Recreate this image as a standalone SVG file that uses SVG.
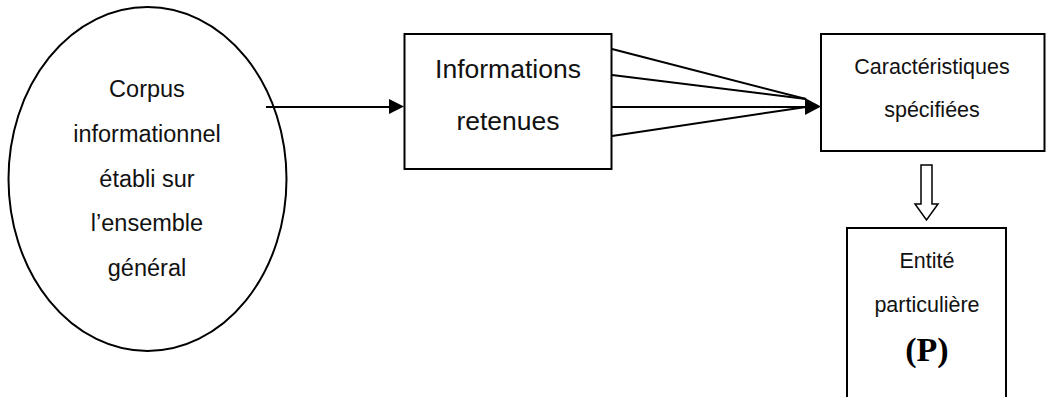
<svg xmlns="http://www.w3.org/2000/svg" width="1046" height="397" viewBox="0 0 1046 397">
<style>
.shape{fill:#fff;stroke:#000;stroke-width:2}
.ln{stroke:#000;stroke-width:2;fill:none}
.head{fill:#000;stroke:none}
.t{font-family:"Liberation Sans",Arial,sans-serif;fill:#111;text-anchor:middle}
.p{font-family:"Liberation Serif","Times New Roman",serif;font-weight:bold;fill:#000;text-anchor:middle}
</style>
<rect width="1046" height="397" fill="#fff"/>
<g id="corpus">
<ellipse class="shape" cx="147.5" cy="179" rx="139" ry="172" stroke-width="1.6"/>
<text class="t" x="147" y="97" font-size="23.5">Corpus</text>
<text class="t" x="147" y="142" font-size="23.5">informationnel</text>
<text class="t" x="147" y="187" font-size="23.5">établi sur</text>
<text class="t" x="147" y="231" font-size="23.5">l’ensemble</text>
<text class="t" x="147" y="276" font-size="23.5">général</text>
</g>
<g id="informations">
<rect class="shape" x="404.5" y="34" width="207" height="135"/>
<text class="t" x="508" y="78" font-size="26.5">Informations</text>
<text class="t" x="508" y="130" font-size="26.5">retenues</text>
</g>
<g id="caracteristiques">
<rect class="shape" x="821" y="34" width="223.5" height="117"/>
<text class="t" x="932" y="74" font-size="21.5">Caractéristiques</text>
<text class="t" x="932" y="117" font-size="21.5">spécifiées</text>
</g>
<g id="entite">
<path class="shape" d="M847,397 V228 H1006 V397"/>
<text class="t" x="927" y="268" font-size="21.5">Entité</text>
<text class="t" x="927" y="312" font-size="21.5">particulière</text>
<text class="p" x="927" y="361" font-size="34">(P)</text>
</g>
<g id="connectors">
<line class="ln" x1="266" y1="107" x2="391" y2="107"/>
<polygon class="head" points="389,99 404,106.5 389,114"/>
<line class="ln" x1="612" y1="49" x2="806" y2="99"/>
<line class="ln" x1="612" y1="75" x2="806" y2="99"/>
<line class="ln" x1="612" y1="107" x2="806" y2="107"/>
<line class="ln" x1="612" y1="136" x2="806" y2="107"/>
<polygon class="head" points="805,98 821,106.5 805,115"/>
<polygon fill="#fff" stroke="#000" stroke-width="1.5" points="921,165 932,165 932,204 938,204 926.5,220 915,204 921,204"/>
</g>
</svg>
